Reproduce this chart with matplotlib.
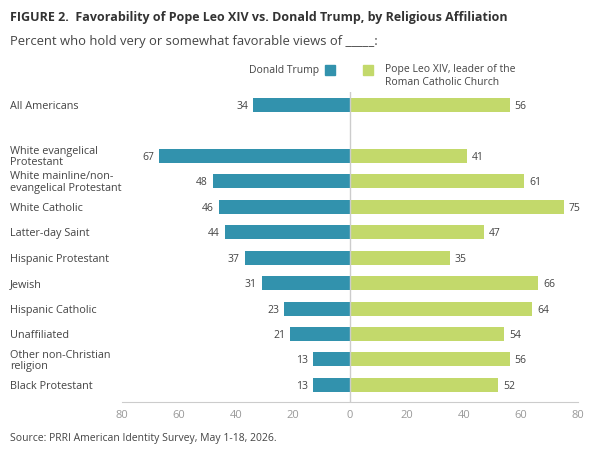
import numpy as np
import matplotlib.pyplot as plt
from matplotlib.transforms import blended_transform_factory

plt.rcParams['font.family'] = ['Open Sans', 'DejaVu Sans']

# data
groups = ['All Americans', 'White evangelical\nProtestant', 'White mainline/non-\nevangelical Protestant',
          'White Catholic', 'Latter-day Saint', 'Hispanic Protestant', 'Jewish', 'Hispanic Catholic',
          'Unaffiliated', 'Other non-Christian\nreligion', 'Black Protestant']
trump = [34, 67, 48, 46, 44, 37, 31, 23, 21, 13, 13]
pope = [56, 41, 61, 75, 47, 35, 66, 64, 54, 56, 52]
ticks = [-80, -60, -40, -20, 0, 20, 40, 60, 80]
tick_labels = ['80', '60', '40', '20', '0', '20', '40', '60', '80']

teal = '#3292ad'
green = '#c3d96b'
txt = '#444444'

# All Americans sits apart from the rest, leave a gap row
ypos = np.array([0] + list(range(2, 2 + len(groups) - 1)))

fig = plt.figure(figsize=(6, 4.55), dpi=100)
ax = fig.add_axes([0.2033, 0.1165, 0.76, 0.6813])

ax.barh(ypos, [-v for v in trump], height=0.55, color=teal)
ax.barh(ypos, pope, height=0.55, color=green)

for y, t, p in zip(ypos, trump, pope):
    ax.text(-t - 1.8, y + 0.06, str(t), ha='right', va='center', fontsize=7.5, color=txt)
    ax.text(p + 1.8, y + 0.06, str(p), ha='left', va='center', fontsize=7.5, color=txt)

lab_tr = blended_transform_factory(fig.transFigure, ax.transData)
for y, g in zip(ypos, groups):
    ax.text(10 / 600, y + 0.06, g, ha='left', va='center', fontsize=7.8, color=txt, linespacing=1.05,
            transform=lab_tr, clip_on=False)

ax.axvline(0, color='#cccccc', lw=1)
ax.set_xlim(-80, 80)
ax.set_ylim(11.67, -0.5)
ax.set_xticks(ticks)
ax.set_xticklabels(tick_labels, fontsize=8, color='#999999')
ax.set_yticks([])
ax.tick_params(axis='x', length=0, pad=6)
for s in ['top', 'right', 'left']:
    ax.spines[s].set_visible(False)
ax.spines['bottom'].set_color('#cccccc')

# titles
fig.text(10 / 600, 1 - 17 / 455, 'FIGURE 2.  Favorability of Pope Leo XIV vs. Donald Trump, by Religious Affiliation',
         fontsize=9, fontweight='bold', color='#333333', va='center')
fig.text(10 / 600, 1 - 41 / 455, 'Percent who hold very or somewhat favorable views of _____:',
         fontsize=9.4, color=txt, va='center')

# legend
fig.text(319 / 600, 1 - 70 / 455, 'Donald Trump', fontsize=7.5, color=txt, ha='right', va='center')
fig.patches.append(plt.Rectangle((325 / 600, 1 - 75 / 455), 10 / 600, 10 / 455,
                                 transform=fig.transFigure, color=teal))
fig.patches.append(plt.Rectangle((363 / 600, 1 - 75 / 455), 10 / 600, 10 / 455,
                                 transform=fig.transFigure, color=green))
fig.text(385 / 600, 1 - 76 / 455, 'Pope Leo XIV, leader of the\nRoman Catholic Church', fontsize=7.5,
         color=txt, ha='left', va='center', linespacing=1.3)

fig.text(10 / 600, 1 - 439 / 455, 'Source: PRRI American Identity Survey, May 1-18, 2026.',
         fontsize=7.5, color=txt, va='center')

fig.savefig('out.png', dpi=100)
